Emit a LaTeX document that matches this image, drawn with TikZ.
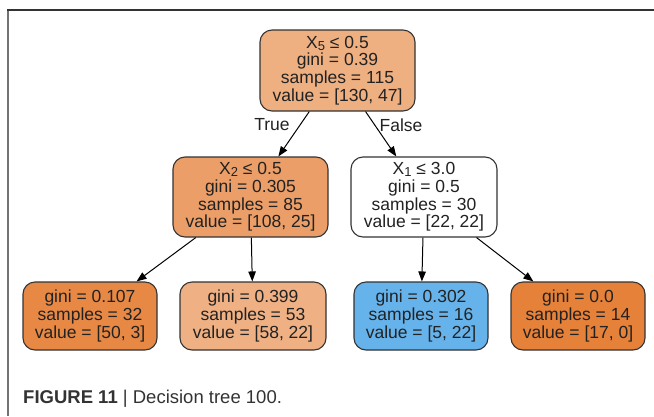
\documentclass[tikz,border=0pt]{standalone}
\usepackage{fontspec}
\setmainfont{Liberation Sans}
\usetikzlibrary{arrows.meta}
\definecolor{cRoot}{RGB}{238,175,129}
\definecolor{cL}{RGB}{235,158,103}
\definecolor{cLL}{RGB}{231,137,69}
\definecolor{cLR}{RGB}{239,177,132}
\definecolor{cRL}{RGB}{102,179,235}
\definecolor{cRR}{RGB}{229,129,57}
\definecolor{edgecol}{RGB}{51,51,51}
\definecolor{txt}{RGB}{34,34,34}
\newcommand{\subx}[1]{\raisebox{-0.22ex}{\fontsize{13}{13}\selectfont #1}}
\tikzset{
  treenode/.style={draw=edgecol, line width=1.1pt, rounded corners=12pt, align=center,
    text=txt, font=\fontsize{17.5}{17.7}\selectfont, inner sep=0pt, minimum height=81pt},
  leafnode/.style={treenode, minimum height=68pt},
  conn/.style={line width=1pt, draw=black, -{Triangle[length=10pt,width=7.5pt]}},
  edgelabel/.style={text=txt, font=\fontsize{17.5}{17.5}\selectfont, inner sep=0pt}
}
\begin{document}
\begin{tikzpicture}[x=1pt,y=-1pt]
\useasboundingbox (0,0) rectangle (654,416);
% frame
\draw[draw=black!55, line width=2pt] (8,10) -- (8,416);
\draw[draw=edgecol, line width=1.2pt] (7,10) -- (654,10);
% nodes
\node[treenode, fill=cRoot, minimum width=155pt] (root) at (337.5,70.5)
  {X\subx{5} ≤ 0.5\\gini = 0.39\\samples = 115\\value = [130, 47]};
\node[treenode, fill=cL, minimum width=155pt, minimum height=80pt] (l) at (250.5,197)
  {X\subx{2} ≤ 0.5\\gini = 0.305\\samples = 85\\value = [108, 25]};
\node[treenode, fill=white, minimum width=146pt, minimum height=80pt] (r) at (424,197)
  {X\subx{1} ≤ 3.0\\gini = 0.5\\samples = 30\\value = [22, 22]};
\node[leafnode, fill=cLL, minimum width=134pt] (ll) at (90,316)
  {gini = 0.107\\samples = 32\\value = [50, 3]};
\node[leafnode, fill=cLR, minimum width=146pt] (lr) at (253,316)
  {gini = 0.399\\samples = 53\\value = [58, 22]};
\node[leafnode, fill=cRL, minimum width=134pt] (rl) at (421,316)
  {gini = 0.302\\samples = 16\\value = [5, 22]};
\node[leafnode, fill=cRR, minimum width=134pt] (rr) at (578,316)
  {gini = 0.0\\samples = 14\\value = [17, 0]};
% connectors
\draw[conn] (root) -- (l);
\draw[conn] (root) -- (r);
\draw[conn] (l) -- (ll);
\draw[conn] (l) -- (lr);
\draw[conn] (r) -- (rl);
\draw[conn] (r) -- (rr);
% edge labels
\node[edgelabel] (tlab) at (272,125) {True};
\node[edgelabel] (flab) at (401,125) {False};
% caption
\node[anchor=base west, inner sep=0pt, text=edgecol, font=\fontsize{18.5}{18.5}\selectfont] (cap) at (23,403)
  {\textbf{FIGURE 11} | Decision tree 100.};
\end{tikzpicture}
\end{document}
